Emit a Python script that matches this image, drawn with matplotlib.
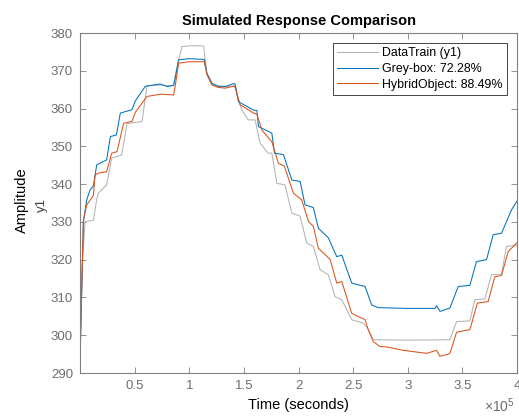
import numpy as np
import matplotlib
matplotlib.use('Agg')
import matplotlib.pyplot as plt

# Messdata (DataTrain y1)
t_data = [0, 2000, 4660, 12300, 15300, 16800, 24400, 26500, 29000, 38100,
          43100, 56800, 61300, 73500, 85700, 87200, 93300, 100000, 113100,
          116200, 120800, 132900, 142000, 144000, 148200, 153900, 160300,
          164900, 172200, 175600, 180200, 187600, 193900, 201500, 207600,
          213600, 219800, 227300, 233500, 239600, 248700, 259300, 263000,
          268500, 300000, 338600, 344700, 356900, 361400, 370600, 376700,
          385800, 390400, 400000]
y_data = [296, 318, 330.1, 330.4, 336.0, 337.6, 339.8, 343.0, 346.9, 347.7,
          356.0, 356.6, 366.0, 366.2, 366.0, 369.0, 376.4, 376.6, 376.6,
          369.3, 366.4, 365.8, 366.0, 363.0, 359.6, 357.0, 357.0,
          350.8, 348.2, 348.2, 340.2, 339.8, 332.3, 331.5, 324.4,
          323.5, 317.3, 316.0, 310.2, 309.4, 304.1, 303.2, 302.0,
          298.8, 298.7, 298.8, 303.6, 303.8, 309.4, 309.6, 316.0,
          316.2, 323.5, 323.8]

# Grey-box modell
t_grey = [0, 3100, 6100, 9200, 12300, 15300, 24400, 27800, 33300, 36900,
          47600, 50600, 59800, 73500, 80000, 85700, 87200, 90200, 100000,
          113700, 116200, 120800, 126500, 132900, 140500, 142000, 145100,
          158800, 161900, 163400, 175600, 178000, 186200, 193900, 201500,
          206000, 213600, 218200, 227300, 235000, 239600, 248700, 260900,
          267000, 273000, 300000, 324900, 326400, 329500, 338600, 346200,
          356900, 362900, 372100, 378200, 385800, 395000, 400000]
y_grey = [293, 330.0, 335.8, 338.5, 339.5, 345.1, 346.4, 352.6, 353.0, 358.8,
          359.7, 362.0, 365.9, 366.5, 365.8, 366.2, 368.0, 372.9, 373.2,
          373.0, 369.3, 366.7, 365.8, 365.8, 366.6, 366.5, 361.8,
          359.6, 359.5, 355.2, 353.5, 348.2, 347.8, 341.1, 340.7,
          334.5, 333.8, 328.3, 325.8, 320.8, 321.2, 313.8, 312.9,
          308.0, 307.3, 307.1, 307.1, 307.8, 306.3, 307.2, 312.9,
          313.2, 319.5, 320.0, 326.6, 327.0, 333.2, 335.5]

# Hybrid modell
t_hyb = [0, 3100, 6100, 10700, 12300, 13800, 16800, 24400, 29000, 33900,
         39900, 47600, 50600, 61300, 73500, 85700, 87200, 90200, 100000,
         113700, 116200, 120800, 126500, 132900, 140500, 142000, 146600,
         158800, 161900, 166500, 175600, 181600, 187000, 195300, 203000,
         209100, 213600, 218200, 228900, 235000, 239600, 248700, 260900,
         263900, 268500, 274600, 280700, 295900, 317300, 326400, 329500,
         337000, 338600, 344700, 356900, 363700, 373600, 379700, 385800,
         391900, 400000]
y_hyb = [293, 330.4, 334.5, 336.3, 337.1, 342.4, 342.9, 343.3, 348.2, 348.6,
         356.1, 356.6, 359.0, 363.2, 363.8, 363.6, 366.0, 372.0, 372.4,
         372.4, 369.0, 366.2, 365.6, 365.4, 365.9, 365.6, 361.0,
         358.8, 358.5, 354.3, 351.2, 345.5, 344.8, 337.6, 335.8,
         330.1, 328.8, 323.0, 320.1, 313.8, 314.2, 305.8, 304.1,
         301.4, 298.3, 297.0, 296.9, 296.0, 295.2, 296.0, 294.4,
         295.0, 295.2, 300.8, 301.5, 308.5, 308.9, 315.5, 315.8,
         322.1, 324.5]

labels = ['DataTrain (y1)', 'Grey-box: 72.28%', 'HybridObject: 88.49%']
xtick_vals = [0.5e5, 1e5, 1.5e5, 2e5, 2.5e5, 3e5, 3.5e5, 4e5]
xtick_txt = ['0.5', '1', '1.5', '2', '2.5', '3', '3.5', '4']
ytick_vals = list(range(290, 381, 10))

plt.rcParams['font.family'] = ['Liberation Sans', 'DejaVu Sans']
plt.rcParams['mathtext.fontset'] = 'custom'
plt.rcParams['mathtext.rm'] = 'Liberation Sans'

fig = plt.figure(figsize=(5.19, 4.16), dpi=100)
ax = fig.add_axes([80/519, 1-373/416, 437/519, 340/416])

ax.plot(t_data, y_data, color='#b3b3b3', lw=0.75, label=labels[0])
ax.plot(t_grey, y_grey, color='#0072bd', lw=0.75, label=labels[1])
ax.plot(t_hyb, y_hyb, color='#d95319', lw=0.75, label=labels[2])

ax.set_xlim(0, 4e5)
ax.set_ylim(290, 380)
ax.set_xticks(xtick_vals)
ax.set_xticklabels(xtick_txt)
ax.set_yticks(ytick_vals)

gray = '#808080'
for s in ax.spines.values():
    s.set_color(gray)
    s.set_linewidth(0.8)
ax.tick_params(direction='in', top=True, right=True, length=4, width=0.6,
               colors=gray, labelcolor='#6e6e6e', labelsize=9.5, pad=5)

ax.set_title('Simulated Response Comparison', fontsize=10.5, fontweight='bold', pad=6)
ax.set_xlabel('Time (seconds)', fontsize=10.5, labelpad=4)
fig.text(22/519, 1-200/416, 'Amplitude', rotation=90, fontsize=10.5,
         ha='center', va='center')
fig.text(42/519, 1-205/416, 'y1', rotation=90, fontsize=9.5, color='#404040',
         ha='center', va='center')
fig.text(515/519, 1-406/416, r'$\times\mathrm{10}^{\mathrm{5}}$', fontsize=10,
         color='#6e6e6e', ha='right', va='center')

leg = ax.legend(loc='upper right', bbox_to_anchor=(507/519, 1-43/416),
                bbox_transform=fig.transFigure, fontsize=8.9, fancybox=False,
                framealpha=1, borderaxespad=0, handlelength=3.3,
                borderpad=0.35, labelspacing=0.3, handletextpad=0.35)
leg.get_frame().set_edgecolor('#262626')
leg.get_frame().set_linewidth(0.6)

plt.savefig('out.png', dpi=100)
